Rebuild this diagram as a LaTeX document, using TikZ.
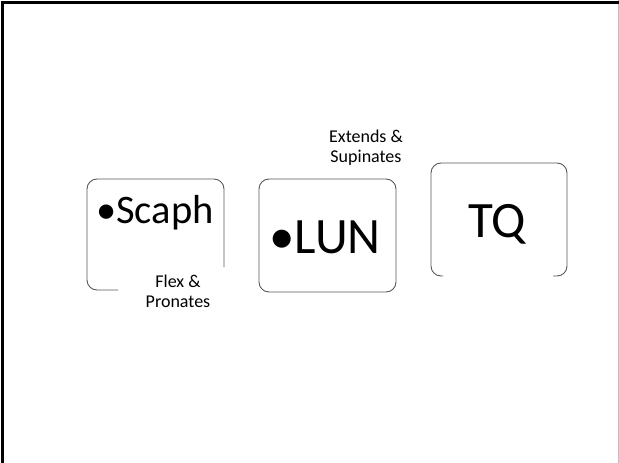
\documentclass[tikz,border=0pt]{standalone}
\usepackage{fontspec}
\setmainfont{Carlito}
\begin{document}
\begin{tikzpicture}[x=1pt,y=-1pt,
  boxline/.style={draw=black!65,line width=0.9pt,rounded corners=10pt},
  bigtxt/.style={inner sep=0pt,anchor=base,font=\fontsize{51}{53}\selectfont},
  midtxt/.style={inner sep=0pt,anchor=base,font=\fontsize{40.5}{42}\selectfont},
  smalltxt/.style={inner sep=0pt,anchor=base,font=\fontsize{18}{20}\selectfont}]
\useasboundingbox (0,0) rectangle (619,463);
% frame
\draw[black!25,line width=1pt] (618,0) -- (618,463);
\draw[black,line width=3pt] (2.5,463) -- (2.5,2.5) -- (619,2.5);
% Scaph box (open at lower right)
\draw[boxline] (224,267) -- (224,179) -- (87,179) -- (87,290) -- (118,290);
% LUN box
\draw[boxline] (259,179) rectangle (396,292);
% TQ box (open at bottom)
\draw[boxline] (443,276) -- (431,276) -- (431,163) -- (567,163) -- (567,276) -- (553,276);
% texts
\node[midtxt] (scaph) at (155,223) {•Scaph};
\node[bigtxt] (lun) at (325,253) {•LUN};
\node[bigtxt] (tq) at (497,237) {TQ};
\node[smalltxt] (flexa) at (178,287) {Flex \&};
\node[smalltxt] (flexb) at (178,307) {Pronates};
\node[smalltxt] (exta) at (366,142) {Extends \&};
\node[smalltxt] (extb) at (366,162) {Supinates};
\end{tikzpicture}
\end{document}
